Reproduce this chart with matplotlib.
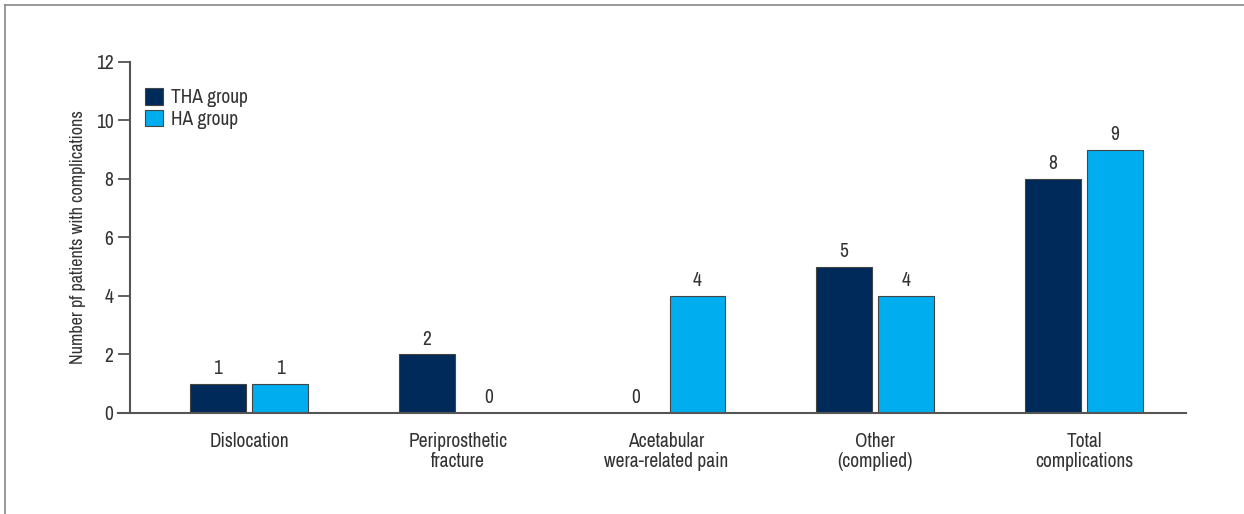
import numpy as np
import matplotlib
matplotlib.use('Agg')
import matplotlib.pyplot as plt
from matplotlib.lines import Line2D
from matplotlib import font_manager

# Daten
categories = ['Dislocation', 'Periprosthetic\nfracture', 'Acetabular\nwera-related pain',
              'Other\n(complied)', 'Total\ncomplications']
tha_group = [1, 2, 0, 5, 8]
ha_group = [1, 0, 4, 4, 9]
y_ticks = [0, 2, 4, 6, 8, 10, 12]

# schmale Schrift suchen, sonst Roboto
narrow = [f.name for f in font_manager.fontManager.ttflist
          if 'Narrow' in f.name or 'Condensed' in f.name]
stretch_fonts = [f for f in font_manager.fontManager.ttflist
                 if str(f.stretch) in ('condensed', 'semi-condensed', 'extra-condensed', '75', '87.5')]
if narrow:
    fam = narrow[0]
    stretch = 'normal'
elif stretch_fonts:
    fam = stretch_fonts[0].name
    stretch = stretch_fonts[0].stretch
else:
    fam = 'Roboto'
    stretch = 'normal'
plt.rcParams['font.family'] = [fam, 'DejaVu Sans']
plt.rcParams['font.stretch'] = stretch
text_col = '#333333'
fs = 14

fig = plt.figure(figsize=(12.44, 5.14), dpi=100)
ax = fig.add_axes([0.1045, 0.1965, 0.849, 0.683])

x = np.arange(len(categories))
w = 0.268
off = 0.149
b1 = ax.bar(x - off, tha_group, w, color='#002a5a', edgecolor='#444444', linewidth=0.8, label='THA group')
b2 = ax.bar(x + off, ha_group, w, color='#00adee', edgecolor='#444444', linewidth=0.8, label='HA group')
ax.bar_label(b1, padding=4, fontsize=fs, color=text_col)
ax.bar_label(b2, padding=4, fontsize=fs, color=text_col)

ax.set_xlim(-0.57, 4.49)
ax.set_ylim(0, 12)
ax.set_yticks(y_ticks)
ax.set_xticks(x)
ax.set_xticklabels(categories, fontsize=fs, color=text_col, linespacing=1.05)
ax.tick_params(axis='x', length=0, pad=14)
ax.tick_params(axis='y', length=9, width=1.3, color='#555555', labelsize=fs, labelcolor=text_col, pad=3)
ax.set_ylabel('Number pf patients with complications', fontsize=13, color=text_col, labelpad=7)

for s in ['top', 'right']:
    ax.spines[s].set_visible(False)
for s in ['left', 'bottom']:
    ax.spines[s].set_color('#555555')
    ax.spines[s].set_linewidth(1.5)
ax.spines['bottom'].set_bounds(-0.627, 4.49)

ax.legend(loc='upper left', bbox_to_anchor=(-0.002, 0.975), frameon=False, fontsize=fs,
          handlelength=0.9, handleheight=0.9, handletextpad=0.4, labelspacing=0.15,
          labelcolor=text_col)

# Rahmen oben und links
fig.add_artist(Line2D([0.004, 1.0], [0.99, 0.99], color='#888888', linewidth=1.2, transform=fig.transFigure))
fig.add_artist(Line2D([0.004, 0.004], [0.0, 0.99], color='#888888', linewidth=1.2, transform=fig.transFigure))

fig.savefig('out.png', dpi=100)
